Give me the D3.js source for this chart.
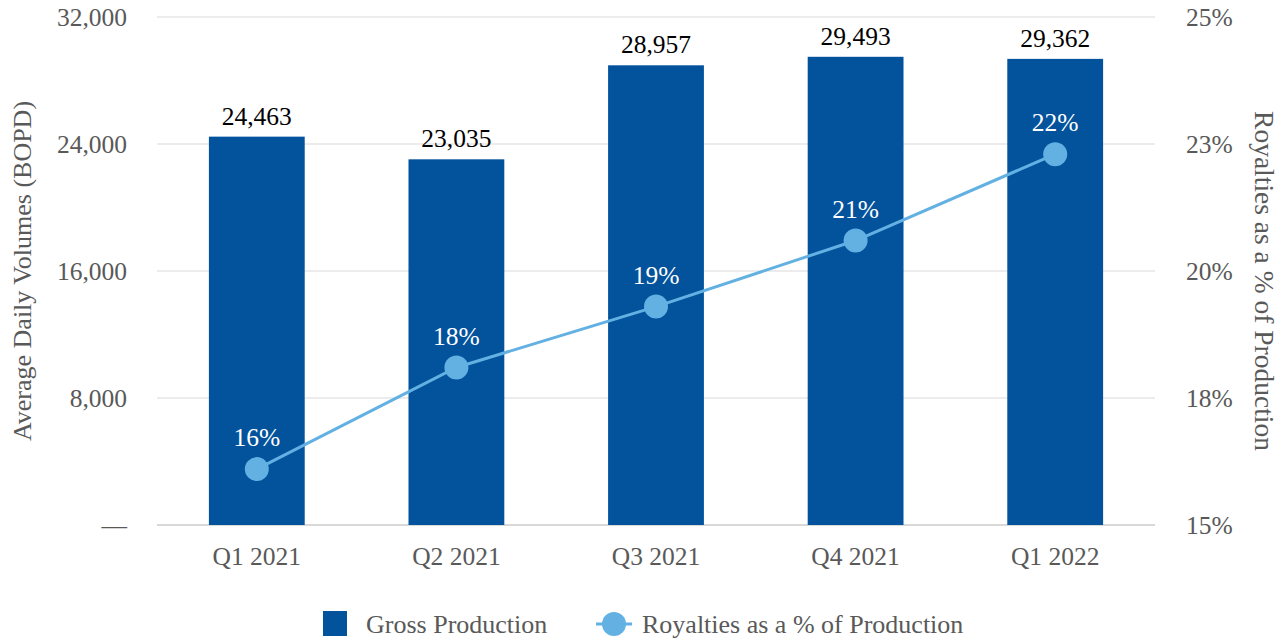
<!DOCTYPE html>
<html lang="en">
<head>
  <meta charset="UTF-8">
  <title>Gross Production and Royalties</title>
  <script src="https://d3js.org/d3.v7.min.js"></script>
  <style>
    body { margin: 0; background: #fff; }
    svg text { font-family: "Liberation Serif", "Times New Roman", serif; }
  </style>
</head>
<body>
  <svg width="1284" height="640"></svg>
  <script>
    const quarters = ["Q1 2021", "Q2 2021", "Q3 2021", "Q4 2021", "Q1 2022"];
    const grossProduction = [24463, 23035, 28957, 29493, 29362];
    const royaltyPct = [16.1, 18.1, 19.3, 20.6, 22.3];
    const leftTicks = [0, 8000, 16000, 24000, 32000];
    const rightTicks = [15, 17.5, 20, 22.5, 25];

    const svg = d3.select("svg");
    const plotL = 157, plotR = 1155, plotT = 17, plotB = 525;
    const barColor = "#02529c", lineColor = "#63b0e3", axisText = "#595959";
    const fs = 25.5;

    const x = d3.scaleBand().domain(quarters).range([plotL, plotR]).paddingInner(0.52).paddingOuter(0.26);
    const yL = d3.scaleLinear().domain([0, 32000]).range([plotB, plotT]);
    const yR = d3.scaleLinear().domain([15, 25]).range([plotB, plotT]);

    // gridlines
    svg.append("g").selectAll("line")
      .data(leftTicks)
      .join("line")
      .attr("x1", plotL).attr("x2", plotR)
      .attr("y1", d => yL(d)).attr("y2", d => yL(d))
      .attr("stroke", d => d === 0 ? "#d9d9d9" : "#e6e6e6")
      .attr("stroke-width", d => d === 0 ? 2 : 1.5);

    // left axis
    const leftAxis = svg.append("g")
      .attr("transform", `translate(${plotL - 30},0)`)
      .call(d3.axisLeft(yL).tickValues(leftTicks).tickSize(0).tickPadding(0)
        .tickFormat(d => d === 0 ? "—" : d3.format(",")(d)));
    leftAxis.select(".domain").remove();
    leftAxis.selectAll("text").attr("font-size", fs).attr("fill", axisText)
      .attr("font-family", "Liberation Serif");

    // right axis
    const rightAxis = svg.append("g")
      .attr("transform", `translate(${plotR + 31},0)`)
      .call(d3.axisRight(yR).tickValues(rightTicks).tickSize(0).tickPadding(0)
        .tickFormat(d => Math.round(d) + "%"));
    rightAxis.select(".domain").remove();
    rightAxis.selectAll("text").attr("font-size", fs).attr("fill", axisText)
      .attr("font-family", "Liberation Serif");

    // x axis
    const xAxis = svg.append("g")
      .attr("transform", `translate(0,${plotB + 10})`)
      .call(d3.axisBottom(x).tickSize(0).tickPadding(12));
    xAxis.select(".domain").remove();
    xAxis.selectAll("text").attr("font-size", fs).attr("fill", axisText)
      .attr("font-family", "Liberation Serif");

    // axis titles
    svg.append("text")
      .attr("transform", `translate(31,${(plotT + plotB) / 2}) rotate(-90)`)
      .attr("text-anchor", "middle")
      .attr("font-size", 26).attr("fill", axisText)
      .text("Average Daily Volumes (BOPD)");
    svg.append("text")
      .attr("transform", `translate(1255,281) rotate(90)`)
      .attr("text-anchor", "middle")
      .attr("font-size", 27.5).attr("fill", axisText)
      .text("Royalties as a % of Production");

    // bars
    svg.append("g").selectAll("rect")
      .data(grossProduction)
      .join("rect")
      .attr("x", (d, i) => x(quarters[i]))
      .attr("width", x.bandwidth())
      .attr("y", d => yL(d))
      .attr("height", d => yL(0) - yL(d))
      .attr("fill", barColor);

    svg.append("g").selectAll("text")
      .data(grossProduction)
      .join("text")
      .attr("x", (d, i) => x(quarters[i]) + x.bandwidth() / 2)
      .attr("y", d => yL(d) - 12)
      .attr("text-anchor", "middle")
      .attr("font-size", fs).attr("fill", "#000")
      .text(d => d3.format(",")(d));

    // line
    const cx = (d, i) => x(quarters[i]) + x.bandwidth() / 2;
    const line = d3.line().x(cx).y(d => yR(d));
    svg.append("path")
      .datum(royaltyPct)
      .attr("d", line)
      .attr("fill", "none")
      .attr("stroke", lineColor)
      .attr("stroke-width", 3);

    svg.append("g").selectAll("circle")
      .data(royaltyPct)
      .join("circle")
      .attr("cx", cx)
      .attr("cy", d => yR(d))
      .attr("r", 12)
      .attr("fill", lineColor);

    svg.append("g").selectAll("text")
      .data(royaltyPct)
      .join("text")
      .attr("x", cx)
      .attr("y", d => yR(d) - 23)
      .attr("text-anchor", "middle")
      .attr("font-size", fs).attr("fill", "#fff")
      .text(d => Math.round(d) + "%");

    // legend
    const lg = svg.append("g").attr("transform", "translate(0,624)");
    lg.append("rect").attr("x", 323).attr("y", -13).attr("width", 24).attr("height", 25).attr("fill", barColor);
    lg.append("text").attr("x", 366).attr("y", 9).attr("font-size", 26).attr("fill", axisText).text("Gross Production");
    lg.append("line").attr("x1", 596).attr("x2", 632).attr("y1", 0).attr("y2", 0)
      .attr("stroke", lineColor).attr("stroke-width", 3);
    lg.append("circle").attr("cx", 614).attr("cy", 0).attr("r", 12).attr("fill", lineColor);
    lg.append("text").attr("x", 642).attr("y", 9).attr("font-size", 26).attr("fill", axisText).text("Royalties as a % of Production");
  </script>
</body>
</html>
